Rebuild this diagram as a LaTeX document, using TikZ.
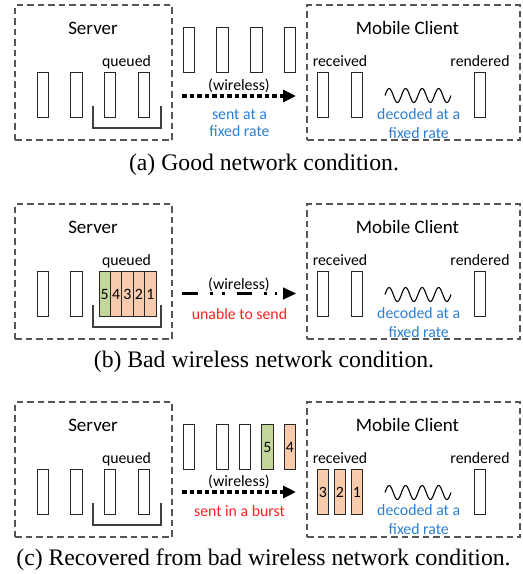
\documentclass[tikz,border=0pt]{standalone}
\usepackage{fontspec}
\setmainfont{Carlito}
\newfontfamily\capserif{Liberation Serif}
\usetikzlibrary{arrows.meta}
\definecolor{qgreen}{HTML}{C4D79B}
\definecolor{qorange}{HTML}{F8CBAD}
\definecolor{tblue}{HTML}{2A7FD4}
\definecolor{tred}{HTML}{FF2222}
\definecolor{boxgray}{HTML}{555555}
\newcommand\mytitlefont{\fontsize{19}{22}\selectfont}
\newcommand\mylabfont{\fontsize{15.8}{18}\selectfont}
\newcommand\mycapfont{\capserif\fontsize{23.7}{27}\selectfont}
\tikzset{
  regionbox/.style={draw=boxgray, line width=1.4pt, dash pattern=on 6.5pt off 4pt, inner sep=0pt},
  frame/.style={draw=black!85, line width=1pt, minimum width=11.5pt, minimum height=45.5pt, inner sep=0pt, font=\mylabfont},
  titletext/.style={inner sep=0pt, anchor=base, font=\mytitlefont},
  lab/.style={inner sep=0pt, anchor=base, font=\mylabfont},
  captext/.style={inner sep=0pt, anchor=base, font=\mycapfont},
  bracket/.style={draw=black!75, line width=1.2pt},
  wireless/.style={line width=3.2pt, dash pattern=on 4.5pt off 3pt, -{Triangle[length=13pt,width=12pt]}},
  wave/.style={line width=1.1pt, black},
  dotmark/.style={fill=black, inner sep=0pt, minimum size=2.6pt},
}
\begin{document}
\begin{tikzpicture}[x=1pt, y=-1pt]
\useasboundingbox (0,0) rectangle (523,574);
% ================= (a)
\begin{scope}
\node[regionbox, minimum width=157pt, minimum height=135pt] (aserver) at (93.5,72.5) {};
\node[regionbox, minimum width=213pt, minimum height=135pt] (aclient) at (413.5,72.5) {};
\node[titletext] (aservert) at (93,34) {Server};
\node[titletext] (aclientt) at (407.5,34) {Mobile Client};
\node[frame] (as1) at (43,95) {};
\node[frame] (as2) at (76.5,95) {};
\node[frame] (as3) at (110,95) {};
\node[frame] (as4) at (144,95) {};
\node[lab] (aq) at (126.5,66.5) {queued};
\draw[bracket] (93,106) -- (93,128) -- (161,128) -- (161,106);
\node[frame] (am1) at (189,50) {};
\node[frame] (am2) at (222.5,50) {};
\node[frame] (am3) at (256.5,50) {};
\node[frame] (am4) at (290,50) {};
\coordinate (aa1) at (182,96);
\coordinate (aa2) at (296,96);
\draw[wireless] (aa1) -- (aa2);
\node[lab] (aw) at (239,90) {(wireless)};
\node[lab, text=tblue] (as) at (239.5,119) {sent at a};
\node[lab, text=tblue] (asb) at (239.5,136.5) {fixed rate};
\node[frame] (ar1) at (323,95) {};
\node[frame] (ar2) at (357,95) {};
\node[frame] (arn) at (480,95) {};
\node[lab] (arl) at (340,66) {received};
\node[lab] (arnl) at (480,66) {rendered};
\draw[wave] plot[domain=0:66, samples=90, smooth] ({385+\x},{95.5-7*sin(\x*21.8182)});
\node[lab, text=tblue] (ad) at (418.7,119.3) {decoded at a};
\node[lab, text=tblue] (adb) at (418.7,138) {fixed rate};
\node[captext] (acap) at (264,170) {(a) Good network condition.};
\end{scope}
% ================= (b)
\begin{scope}[shift={(0,199)}]
\node[regionbox, minimum width=157pt, minimum height=135pt] (bserver) at (93.5,72.5) {};
\node[regionbox, minimum width=213pt, minimum height=135pt] (bclient) at (413.5,72.5) {};
\node[titletext] (bservert) at (93,34) {Server};
\node[titletext] (bclientt) at (407.5,34) {Mobile Client};
\node[frame] (bs1) at (43,95) {};
\node[frame] (bs2) at (76.5,95) {};
\node[frame, fill=qgreen, minimum width=11.4pt] (bq5) at (104.7,95) {5};
\node[frame, fill=qorange, minimum width=11.4pt] (bq4) at (116.1,95) {4};
\node[frame, fill=qorange, minimum width=11.4pt] (bq3) at (127.5,95) {3};
\node[frame, fill=qorange, minimum width=11.4pt] (bq2) at (138.9,95) {2};
\node[frame, fill=qorange, minimum width=11.4pt] (bq1) at (150.3,95) {1};
\node[lab] (bq) at (126.5,66.5) {queued};
\draw[bracket] (93,106) -- (93,128) -- (161,128) -- (161,106);
\node[lab] (bw) at (239,90) {(wireless)};
\coordinate (bd1) at (182,94.5);
\coordinate (bd2) at (198,94.5);
\coordinate (bd3) at (237,94.5);
\coordinate (bd4) at (252,94.5);
\draw[line width=2.8pt] (bd1) -- (bd2);
\draw[line width=2.8pt] (bd3) -- (bd4);
\node[dotmark] (bp1) at (211.7,94.5) {};
\node[dotmark] (bp2) at (223.3,94.5) {};
\node[dotmark] (bp3) at (265.7,94.5) {};
\node[dotmark] (bp4) at (276,94.5) {};
\coordinate (bt1) at (283,94.5);
\coordinate (bt2) at (296,94.5);
\draw[line width=1pt, -{Triangle[length=13pt,width=12pt]}] (bt1) -- (bt2);
\node[lab, text=tred] (bu) at (239.5,120.5) {unable to send};
\node[frame] (br1) at (323,95) {};
\node[frame] (br2) at (357,95) {};
\node[frame] (brn) at (480,95) {};
\node[lab] (brl) at (340,66) {received};
\node[lab] (brnl) at (480,66) {rendered};
\draw[wave] plot[domain=0:66, samples=90, smooth] ({385+\x},{95.5-7*sin(\x*21.8182)});
\node[lab, text=tblue] (bd) at (418.7,119.3) {decoded at a};
\node[lab, text=tblue] (bdb) at (418.7,138) {fixed rate};
\node[captext] (bcap) at (264,168.5) {(b) Bad wireless network condition.};
\end{scope}
% ================= (c)
\begin{scope}[shift={(0,397)}]
\node[regionbox, minimum width=157pt, minimum height=135pt] (cserver) at (93.5,72.5) {};
\node[regionbox, minimum width=213pt, minimum height=135pt] (cclient) at (413.5,72.5) {};
\node[titletext] (cservert) at (93,34) {Server};
\node[titletext] (cclientt) at (407.5,34) {Mobile Client};
\node[frame] (cs1) at (43,95) {};
\node[frame] (cs2) at (76.5,95) {};
\node[frame] (cs3) at (110,95) {};
\node[frame] (cs4) at (144,95) {};
\node[lab] (cq) at (126.5,66.5) {queued};
\draw[bracket] (93,106) -- (93,128) -- (161,128) -- (161,106);
\node[frame] (cm1) at (189,50) {};
\node[frame] (cm2) at (222.5,50) {};
\node[frame] (cm3) at (245,50) {};
\node[frame, fill=qgreen] (cm4) at (267.5,50) {5};
\node[frame, fill=qorange] (cm5) at (290,50) {4};
\coordinate (ca1) at (182,95);
\coordinate (ca2) at (296,95);
\draw[wireless] (ca1) -- (ca2);
\node[lab] (cw) at (239,89) {(wireless)};
\node[lab, text=tred] (cs) at (239.5,119.5) {sent in a burst};
\node[frame, fill=qorange] (cr3) at (323,95) {3};
\node[frame, fill=qorange] (cr2) at (340,95) {2};
\node[frame, fill=qorange] (cr1) at (357,95) {1};
\node[frame] (crn) at (480,95) {};
\node[lab] (crl) at (340,66) {received};
\node[lab] (crnl) at (480,66) {rendered};
\draw[wave] plot[domain=0:66, samples=90, smooth] ({385+\x},{95.5-7*sin(\x*21.8182)});
\node[lab, text=tblue] (cd) at (418.7,118.5) {decoded at a};
\node[lab, text=tblue] (cdb) at (418.7,137) {fixed rate};
\node[captext] (ccap) at (263.5,168.5) {(c) Recovered from bad wireless network condition.};
\end{scope}
\end{tikzpicture}
\end{document}
